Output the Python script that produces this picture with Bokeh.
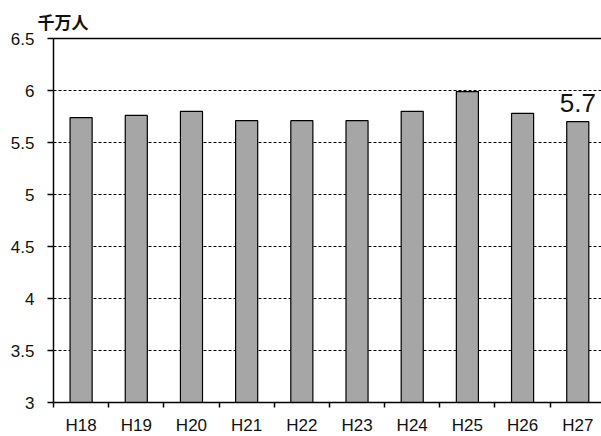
from bokeh.plotting import figure
from bokeh.models import (ColumnDataSource, Range1d, FixedTicker, LinearAxis, Label)
from bokeh.embed import file_html
from bokeh.resources import INLINE

# Annual figures, in units of ten million people
years = ["H18", "H19", "H20", "H21", "H22", "H23", "H24", "H25", "H26", "H27"]
values = [5.74, 5.76, 5.80, 5.71, 5.71, 5.71, 5.80, 5.99, 5.78, 5.70]
y_ticks = [3, 3.5, 4, 4.5, 5, 5.5, 6, 6.5]
unit_label = "千万人"

centers = [i + 0.5 for i in range(len(years))]
src = ColumnDataSource(dict(x=centers, top=values, label=years))

p = figure(width=601, height=436, frame_width=548, frame_height=364,
           output_backend="svg", toolbar_location=None,
           x_range=Range1d(0, 9.93), y_range=Range1d(3, 6.5),
           min_border_left=53, min_border_right=0, min_border_top=38,
           min_border_bottom=0, title=unit_label)
p.background_fill_color = "white"
p.border_fill_color = "white"
p.outline_line_color = None

# unit caption, set as the title at the top-left
p.title.align = "left"
p.title.offset = -16
p.title.text_font = "Noto Sans CJK JP"
p.title.text_font_size = "17px"
p.title.text_font_style = "bold"
p.title.text_color = "#111111"
p.title.standoff = 10

p.vbar(x="x", top="top", bottom=3, width=0.4, source=src,
       fill_color="#a6a6a6", line_color="black", line_width=1.2)

# x axis: labels at category centres, ticks at category boundaries
xa = p.xaxis[0]
xa.ticker = FixedTicker(ticks=centers, minor_ticks=list(range(len(years) + 1)))
xa.major_label_overrides = {c: y for c, y in zip(centers, years)}
xa.major_tick_out = 0
xa.major_tick_in = 0
xa.minor_tick_out = 5
xa.minor_tick_in = 0
xa.axis_line_color = "black"
xa.axis_line_width = 1.5
xa.minor_tick_line_color = "black"
xa.minor_tick_line_width = 1.5
xa.major_label_text_font = "Liberation Sans"
xa.major_label_text_font_size = "17px"
xa.major_label_text_color = "#111111"
xa.major_label_standoff = 8

# y axis
ya = p.yaxis[0]
ya.ticker = FixedTicker(ticks=y_ticks)
ya.major_label_overrides = {t: (f"{t:g}") for t in y_ticks}
ya.major_tick_out = 6
ya.major_tick_in = 0
ya.minor_tick_line_color = None
ya.axis_line_color = "black"
ya.axis_line_width = 1.5
ya.major_tick_line_color = "black"
ya.major_tick_line_width = 1.5
ya.major_label_text_font = "Liberation Sans"
ya.major_label_text_font_size = "17px"
ya.major_label_text_color = "#111111"
ya.major_label_standoff = 13

# solid line across the top of the frame
top_axis = LinearAxis(ticker=FixedTicker(ticks=[]), major_label_text_font_size="0px",
                      axis_line_color="black", axis_line_width=1.5,
                      major_tick_line_color=None, minor_tick_line_color=None)
p.add_layout(top_axis, "above")

p.xgrid.grid_line_color = None
p.ygrid.ticker = FixedTicker(ticks=y_ticks)
p.ygrid.grid_line_color = "black"
p.ygrid.grid_line_dash = "3 2"
p.ygrid.grid_line_width = 1

# value label above the last bar
p.add_layout(Label(x=centers[-1], y=values[-1], y_offset=19,
                   text=f"{values[-1]:.1f}", text_font="Liberation Sans",
                   text_font_size="26px", text_color="#111111",
                   text_align="center", text_baseline="alphabetic"))

open("out.html", "w").write(file_html(p, INLINE))
